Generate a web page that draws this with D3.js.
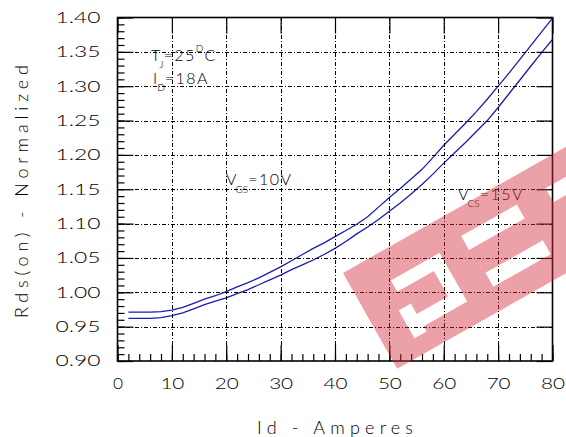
<!DOCTYPE html>
<html>
<head>
<meta charset="utf-8">
<script src="https://cdn.jsdelivr.net/npm/d3@7"></script>
</head>
<body style="margin:0">
<svg id="chart" width="566" height="437" font-family="Lato, 'Liberation Sans', sans-serif" font-weight="300"></svg>
<script>
// Drain current (A)
const idAmps = [2, 4, 6, 8, 10, 12, 14, 16, 18, 20, 22, 24, 26, 28, 30, 32, 34, 36, 38, 40,
                42, 44, 46, 48, 50, 52, 54, 56, 58, 60, 62, 64, 66, 68, 70, 72, 74, 76, 78, 80];
// Normalized on-resistance, VGS = 10 V
const rdsVgs10 = [0.971, 0.971, 0.971, 0.972, 0.974, 0.978, 0.984, 0.990, 0.995, 1.001,
                  1.008, 1.014, 1.021, 1.029, 1.037, 1.046, 1.055, 1.064, 1.072, 1.081,
                  1.090, 1.099, 1.110, 1.124, 1.138, 1.151, 1.165, 1.179, 1.196, 1.214,
                  1.230, 1.246, 1.263, 1.281, 1.300, 1.319, 1.339, 1.359, 1.379, 1.399];
// Normalized on-resistance, VGS = 15 V
const rdsVgs15 = [0.962, 0.962, 0.962, 0.963, 0.966, 0.970, 0.976, 0.982, 0.987, 0.992,
                  0.998, 1.004, 1.011, 1.018, 1.025, 1.033, 1.040, 1.047, 1.055, 1.064,
                  1.074, 1.085, 1.095, 1.106, 1.118, 1.130, 1.143, 1.157, 1.172, 1.188,
                  1.203, 1.218, 1.234, 1.250, 1.269, 1.289, 1.309, 1.329, 1.349, 1.368];

const xMajorTicks = [0, 10, 20, 30, 40, 50, 60, 70, 80];
const yMajorTicks = [0.90, 0.95, 1.00, 1.05, 1.10, 1.15, 1.20, 1.25, 1.30, 1.35, 1.40];
const yTickLabels = ["0.90", "0.95", "1.00", "1.05", "1.10", "1.15", "1.20", "1.25", "1.30", "1.35", "1.40"];
const xMinorTicks = d3.range(0, 81, 2);
const yMinorTicks = d3.range(90, 141, 1).map(v => v / 100);

const svg = d3.select("#chart");
const L = 117.5, R = 552.5, T = 17.5, B = 361;

const x = d3.scaleLinear().domain([0, 80]).range([L, R]);
const y = d3.scaleLinear().domain([0.9, 1.4]).range([B, T]);

function styleAxis(g) {
  g.select(".domain").remove();
  g.selectAll(".tick line").attr("stroke", "#000").attr("stroke-width", 1.2);
}
const tickFont = g => g.selectAll(".tick text")
  .attr("font-size", 15).attr("fill", "#000")
  .attr("font-family", "Lato, 'Liberation Sans', sans-serif").attr("font-weight", 300)
  .attr("lengthAdjust", "spacingAndGlyphs");

// axes with inward ticks
svg.append("g").attr("transform", `translate(0,${B})`)
  .call(d3.axisBottom(x).tickValues(xMinorTicks).tickSize(-7).tickFormat(""))
  .call(styleAxis);
svg.append("g").attr("transform", `translate(0,${B})`)
  .call(d3.axisBottom(x).tickValues(xMajorTicks).tickSize(-16).tickPadding(17))
  .call(styleAxis).call(tickFont)
  .call(g => g.selectAll(".tick text").attr("textLength", d => String(d).length > 1 ? 24 : 10));
svg.append("g").attr("transform", `translate(0,${T})`)
  .call(d3.axisTop(x).tickValues(xMajorTicks).tickSize(-16).tickFormat(""))
  .call(styleAxis);

svg.append("g").attr("transform", `translate(${L},0)`)
  .call(d3.axisLeft(y).tickValues(yMinorTicks).tickSize(-7).tickFormat(""))
  .call(styleAxis);
svg.append("g").attr("transform", `translate(${L},0)`)
  .call(d3.axisLeft(y).tickValues(yMajorTicks).tickSize(-16).tickPadding(17)
    .tickFormat((d, i) => yTickLabels[i]))
  .call(styleAxis).call(tickFont)
  .call(g => g.selectAll(".tick text").attr("textLength", 45));
svg.append("g").attr("transform", `translate(${R},0)`)
  .call(d3.axisRight(y).tickValues(yMajorTicks).tickSize(-16).tickFormat(""))
  .call(styleAxis);

// frame
svg.append("rect").attr("x", L).attr("y", T).attr("width", R - L).attr("height", B - T)
  .attr("fill", "none").attr("stroke", "#000").attr("stroke-width", 1.6);

// curves
const line = d3.line().x((d, i) => x(idAmps[i])).y(d => y(d));
[rdsVgs10, rdsVgs15].forEach(s => {
  svg.append("path").datum(s).attr("d", line)
    .attr("fill", "none").attr("stroke", "#1c1caa").attr("stroke-width", 1.3);
});

// axis titles
svg.append("text").attr("x", (L + R) / 2).attr("y", 434).attr("text-anchor", "middle")
  .attr("font-size", 18).attr("textLength", 156).attr("lengthAdjust", "spacing")
  .text("Id  -  Amperes");
svg.append("text").attr("transform", "translate(28,191.5) rotate(-90)")
  .attr("text-anchor", "middle").attr("font-size", 18)
  .attr("textLength", 253).attr("lengthAdjust", "spacing")
  .text("Rds(on)  -  Normalized");

// labels with subscripts / superscripts as tspans of one text
function label(px, py, parts) {
  const t = svg.append("text").attr("x", px).attr("y", py).attr("font-size", 16);
  parts.forEach(p => {
    const s = t.append("tspan").text(p.s);
    if (p.size) s.attr("font-size", p.size);
    if (p.dy) s.attr("dy", p.dy);
    if (p.dx) s.attr("dx", p.dx);
    if (p.ls) s.attr("letter-spacing", p.ls);
  });
  return t;
}
label(151, 61, [{ s: "T" }, { s: "J", size: 10, dy: 7, dx: -1 },
  { s: "=25", dy: -7, ls: 1.5 }, { s: "D", size: 10, dy: -9 }, { s: "C", dy: 9, dx: 1 }]);
label(153, 84, [{ s: "I" }, { s: "D", size: 10, dy: 7 }, { s: "=18A", dy: -7, ls: 1.5 }]);
label(226, 185, [{ s: "V" }, { s: "GS", size: 10, dy: 8, dx: -1 },
  { s: "=10V", dy: -8, ls: 1.5 }]);
label(458, 200, [{ s: "V" }, { s: "CS", size: 10, dy: 7, dx: -1 },
  { s: "=15V", dy: -7, ls: 1.5 }]);

// dash-dot grid (dash 4, gap 2, dot 1, gap 2) as small filled rects
function dashDotSegments(len) {
  const segs = [];
  for (let p = 0; p < len; p += 9) {
    segs.push([p, Math.min(p + 4, len)]);
    if (p + 6 < len) segs.push([p + 6, Math.min(p + 7, len)]);
  }
  return segs;
}
const gridDashes = [];
xMajorTicks.slice(1, -1).forEach(d => {
  const px = Math.round(x(d));
  dashDotSegments(B - T).forEach(([a, b]) =>
    gridDashes.push({ x: px, y: Math.floor(T + a), w: 1, h: b - a }));
});
yMajorTicks.slice(1, -1).forEach(d => {
  const py = Math.round(y(d));
  dashDotSegments(R - L).forEach(([a, b]) =>
    gridDashes.push({ x: Math.floor(L + a), y: py, w: b - a, h: 1 }));
});
svg.append("g").attr("fill", "#000")
  .selectAll("rect").data(gridDashes).join("rect")
  .attr("x", d => d.x).attr("y", d => d.y)
  .attr("width", d => d.w).attr("height", d => d.h);

// translucent logo band; letter shapes are holes (even-odd fill)
const band = [[0, 0], [420, 0], [420, 110], [0, 110]];
const logoHoles = [
  [[38, 30], [94, 30], [94, 86], [44, 86], [44, 92], [30, 92], [30, 60], [44, 60],
   [44, 72], [80, 72], [80, 43], [38, 43]],
  [[121, 26], [185, 26], [185, 42], [121, 42]],
  [[124, 70], [190, 70], [190, 86], [124, 86]],
  [[218, 26], [288, 26], [288, 42], [218, 42]]
];
const poly = pts => "M" + pts.map(p => p.join(",")).join("L") + "Z";
svg.append("path")
  .attr("transform", "translate(343,273) rotate(-29.5)")
  .attr("d", poly(band) + logoHoles.map(poly).join(""))
  .attr("fill-rule", "evenodd")
  .attr("fill", "#d42c3c").attr("fill-opacity", 0.45);
</script>
</body>
</html>
